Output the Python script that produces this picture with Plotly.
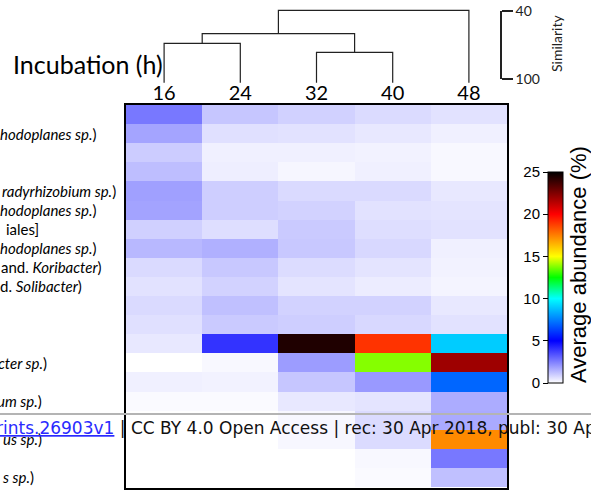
import plotly.graph_objects as go

W, H = 591, 490

# ---------------- data ----------------
times = ["16", "24", "32", "40", "48"]

row_labels = ["", "<i>hodoplanes sp.</i>)", "", "", "<i>radyrhizobium sp.</i>)",
              "<i>hodoplanes sp.</i>)", "iales]", "<i>hodoplanes sp.</i>)",
              "and. <i>Koribacter</i>)", "d. <i>Solibacter</i>)", "", "", "",
              "<i>cter sp.</i>)", "", "<i>um sp.</i>)", "", "<i>us sp.</i>)", "",
              "<i>s sp.</i>)"]

ab_16h = [2.65, 1.78, 1.00, 1.27, 1.86, 1.80, 0.92, 1.39, 0.73, 0.57,
          0.73, 0.61, 0.45, 0.00, 0.30, 0.10, 0.00, 0.00, 0.00, 0.00]
ab_24h = [1.12, 0.61, 0.29, 0.33, 0.96, 0.96, 0.65, 1.55, 1.08, 0.88,
          1.24, 1.04, 4.00, 0.14, 0.25, 0.10, 0.00, 0.00, 0.00, 0.00]
ab_32h = [0.90, 0.57, 0.29, 0.18, 0.73, 0.88, 1.04, 1.08, 0.69, 0.53,
          0.88, 0.96, 24.4, 1.94, 1.12, 0.45, 0.15, 0.15, 0.00, 0.00]
ab_40h = [0.70, 0.45, 0.25, 0.29, 0.73, 0.57, 0.65, 0.76, 0.53, 0.37,
          0.88, 0.76, 19.0, 13.8, 2.00, 0.53, 0.70, 0.70, 0.14, 0.10]
ab_48h = [0.57, 0.30, 0.14, 0.14, 0.45, 0.53, 0.57, 0.29, 0.25, 0.22,
          0.45, 0.57, 9.0, 21.9, 7.00, 1.63, 1.67, 17.3, 2.65, 1.24]

# dendrogram (leaf indices 0..4 = 16..48 h; new clusters numbered 5,6,7,8)
merge_left = [0, 2, 5, 7]
merge_right = [1, 3, 6, 4]
merge_similarity = [68.5, 76.4, 59.8, 39.4]
similarity_ticks = [40, 100]

cbar_ticks = [0, 5, 10, 15, 20, 25]

# ---------------- layout helpers ----------------
def px(x):
    return x / W

def py(y):
    return 1 - y / H

series = [ab_16h, ab_24h, ab_32h, ab_40h, ab_48h]
nrows = len(ab_16h)
z = [[series[c][r] for c in range(len(times))] for r in range(nrows)]

colorscale = [
    [0.0, "#ffffff"],
    [0.2, "#0000ff"],
    [0.4, "#00ffff"],
    [0.5, "#00ff00"],
    [0.6, "#ffff00"],
    [0.8, "#ff0000"],
    [1.0, "#000000"],
]

fig = go.Figure()

fig.add_trace(go.Heatmap(
    z=z, x=times, y=list(range(nrows)),
    colorscale=colorscale, zmin=0, zmax=25,
    showscale=True,
    colorbar=dict(
        x=px(548), xanchor="left", xpad=0, ypad=0,
        y=py(277.5), yanchor="middle",
        len=211, lenmode="pixels",
        thickness=15, thicknessmode="pixels",
        outlinewidth=1, outlinecolor="black",
        showticklabels=False, ticks="",
    ),
    hoverinfo="skip",
))

# dendrogram
leaf_base = 103
pos = {i: float(i) for i in range(len(times))}
hgt = {i: leaf_base for i in range(len(times))}
dx, dy = [], []
for k, (a, b, h) in enumerate(zip(merge_left, merge_right, merge_similarity)):
    dx += [pos[a], pos[a], pos[b], pos[b], None]
    dy += [hgt[a], h, h, hgt[b], None]
    pos[len(times) + k] = (pos[a] + pos[b]) / 2
    hgt[len(times) + k] = h

fig.add_trace(go.Scatter(x=dx, y=dy, mode="lines", xaxis="x2", yaxis="y2",
                         line=dict(color="#222222", width=1.2),
                         showlegend=False, hoverinfo="skip"))

# dummy traces to show the free axes (similarity scale, colorbar ticks)
fig.add_trace(go.Scatter(x=[None], y=[None], xaxis="x3", yaxis="y3",
                         showlegend=False, hoverinfo="skip"))
fig.add_trace(go.Scatter(x=[None], y=[None], xaxis="x3", yaxis="y4",
                         showlegend=False, hoverinfo="skip"))

# similarity pixel mapping
s40_px, s100_px = 11.0, 79.3
scale = (s100_px - s40_px) / 60.0
dendro_top_px, dendro_bot_px = 0.0, 100.0
s_top = 40 - (s40_px - dendro_top_px) / scale
s_bot = 40 + (dendro_bot_px - s40_px) / scale

calibri = "Lato"
hm_dom_x = [px(126), px(507)]

fig.update_layout(
    width=W, height=H,
    margin=dict(l=0, r=0, t=0, b=0),
    paper_bgcolor="white", plot_bgcolor="white",
    template="none",
    font=dict(family=calibri, color="black"),
    showlegend=False,
    xaxis=dict(domain=hm_dom_x, anchor="y", side="top", type="category",
               showline=True, mirror=True, linecolor="black", linewidth=2,
               ticks="", showgrid=False, zeroline=False,
               tickfont=dict(family=calibri, size=20, color="black"),
               ticklabelstandoff=-5),
    yaxis=dict(domain=[py(488), py(105)], anchor="x", autorange="reversed",
               showline=True, mirror=True, linecolor="black", linewidth=2,
               ticks="", showticklabels=False, showgrid=False, zeroline=False),
    xaxis2=dict(domain=hm_dom_x, anchor="y2", range=[-0.5, 4.5], visible=False),
    yaxis2=dict(domain=[py(dendro_bot_px), py(dendro_top_px)], anchor="x2",
                range=[s_bot, s_top], visible=False),
    xaxis3=dict(domain=[px(548), px(563)], anchor="y4", range=[0, 1], visible=False),
    yaxis3=dict(domain=[py(s100_px), py(s40_px)], range=[100, 40],
                anchor="free", position=px(501), side="right",
                showline=True, linecolor="#222222", linewidth=1.5,
                ticks="outside", ticklen=11, tickwidth=1.5, tickcolor="#222222",
                tickvals=similarity_ticks, showgrid=False, zeroline=False,
                tickfont=dict(family=calibri, size=14, color="#222222")),
    yaxis4=dict(domain=[py(383), py(172)], range=[0, 25],
                anchor="free", position=px(548), side="left",
                showline=False, ticks="outside", ticklen=5, tickwidth=1,
                tickcolor="black", tickvals=cbar_ticks,
                showgrid=False, zeroline=False,
                tickfont=dict(family="Liberation Sans", size=15, color="black")),
)

# row labels (cropped tails of the long OTU names)
label_end_px = [None, 99, None, None, 118, 99, 41, 99, 104, 84, None, None, None,
                49, None, 44, None, 44, None, 36]
for i, (lab, xe) in enumerate(zip(row_labels, label_end_px)):
    if lab and xe is not None:
        fig.add_annotation(text=lab, x=px(xe), xref="paper", xanchor="right",
                           y=i, yref="y", yanchor="middle", showarrow=False,
                           font=dict(family=calibri, size=15, color="black"))

fig.add_annotation(text="Incubation (h)", x=px(165), xref="paper", xanchor="right",
                   y=py(64), yref="paper", yanchor="middle", showarrow=False,
                   font=dict(family=calibri, size=25, color="black"))

fig.add_annotation(text="Similarity", x=px(557), xref="paper", xanchor="center",
                   y=py(43), yref="paper", yanchor="middle", textangle=-90,
                   showarrow=False,
                   font=dict(family=calibri, size=14, color="#222222"))

fig.add_annotation(text="Average abundance (%)", x=px(578), xref="paper",
                   xanchor="center", y=py(265), yref="paper", yanchor="middle",
                   textangle=-90, showarrow=False,
                   font=dict(family="Liberation Sans", size=22, color="black"))

# preprint footer banner overlay
fig.add_shape(type="line", xref="paper", yref="paper", x0=0, x1=1,
              y0=py(414), y1=py(414), line=dict(color="#b4b4b4", width=2))
fig.add_annotation(
    text="<span style='color:#2a2aff'><u>rints.26903v1</u></span> | CC BY 4.0 Open Access | rec: 30 Apr 2018, publ: 30 Apr 2018",
    x=px(-6), xref="paper", xanchor="left", y=py(428), yref="paper",
    yanchor="middle", showarrow=False,
    font=dict(family="DejaVu Sans", size=17, color="#111111"))

fig.write_html("out.html")
